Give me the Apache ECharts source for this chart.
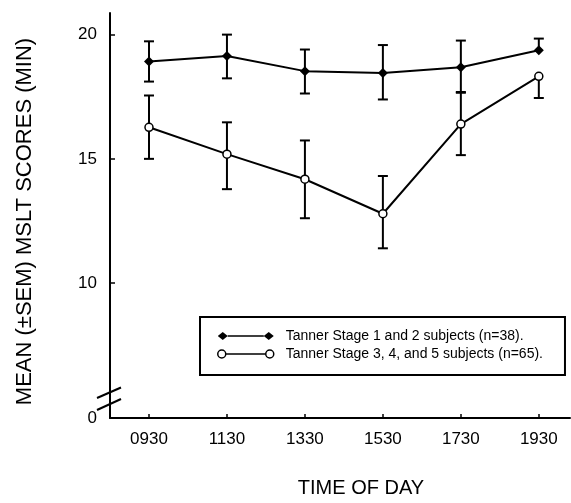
<!DOCTYPE html>
<html><head><meta charset="utf-8">
<script src="https://cdn.jsdelivr.net/npm/echarts@6/dist/echarts.min.js"></script>
<style>html,body{margin:0;padding:0;background:#fff}#c{width:571px;height:503px}</style>
</head><body><div id="c"></div>
<script>
const categories = ['0930', '1130', '1330', '1530', '1730', '1930'];
const seriesNames = ['Tanner Stage 1 and 2 subjects (n=38).', 'Tanner Stage 3, 4, and 5 subjects (n=65).'];
const earlyMean = [18.92, 19.14, 18.53, 18.46, 18.69, 19.37];
const earlyLow  = [18.11, 18.24, 17.63, 17.39, 17.69, 19.37];
const earlyHigh = [19.73, 20.00, 19.40, 19.58, 19.76, 19.84];
const lateMean  = [16.27, 15.19, 14.18, 12.79, 16.40, 18.32];
const lateLow   = [15.00, 13.78, 12.61, 11.40, 15.15, 17.45];
const lateHigh  = [17.55, 16.47, 15.74, 14.31, 17.66, 18.32];
const yTickValues = [10, 15, 20];
const yBreakLabel = '0';
const yAxisName = 'MEAN (\u00B1SEM) MSLT SCORES (MIN)';
const xAxisName = 'TIME OF DAY';

const Y_MIN = 4.57, Y_MAX = 20.87, X_MIN = -0.5, X_MAX = 5.4;
const FONT = '"Liberation Sans", Arial, Helvetica, sans-serif';
const idx = categories.map((c, i) => i);

function errData(mean, low, high) {
  return idx.map(i => [i, low[i], high[i], mean[i]]);
}
function renderErr(params, api) {
  const x = api.value(0), lo = api.value(1), hi = api.value(2), m = api.value(3);
  const pLo = api.coord([x, lo]), pHi = api.coord([x, hi]);
  const hw = 5;
  const st = { stroke: '#000', lineWidth: 2 };
  const ch = [{ type: 'line', shape: { x1: pLo[0], y1: pLo[1], x2: pHi[0], y2: pHi[1] }, style: st }];
  if (hi > m) ch.push({ type: 'line', shape: { x1: pHi[0] - hw, y1: pHi[1], x2: pHi[0] + hw, y2: pHi[1] }, style: st });
  if (lo < m) ch.push({ type: 'line', shape: { x1: pLo[0] - hw, y1: pLo[1], x2: pLo[0] + hw, y2: pLo[1] }, style: st });
  return { type: 'group', children: ch };
}

const chart = echarts.init(document.getElementById('c'), null, { renderer: 'canvas' });
const option = {
  backgroundColor: '#fff',
  animation: false,
  textStyle: { fontFamily: FONT },
  grid: { left: 110, right: 1, top: 13, bottom: 80, containLabel: false },
  xAxis: {
    type: 'value', min: X_MIN, max: X_MAX,
    name: xAxisName, nameLocation: 'middle', nameGap: 60,
    nameTextStyle: { fontSize: 20, color: '#000', fontFamily: FONT, padding: [0, 0, 0, 42] },
    axisLine: { show: true, onZero: false, lineStyle: { color: '#000', width: 2 } },
    axisTick: { show: true, inside: true, length: 4, customValues: idx, lineStyle: { color: '#000', width: 1.5 } },
    axisLabel: { customValues: idx, formatter: v => categories[Math.round(v)], fontSize: 17, color: '#000', margin: 13, fontFamily: FONT },
    splitLine: { show: false }
  },
  yAxis: {
    type: 'value', min: Y_MIN, max: Y_MAX,
    name: yAxisName, nameLocation: 'middle', nameGap: 74, nameRotate: 90,
    nameTextStyle: { fontSize: 22, color: '#000', fontFamily: FONT, padding: [0, 12, 0, 0] },
    axisLine: { show: true, onZero: false, lineStyle: { color: '#000', width: 2 } },
    axisTick: { show: true, inside: true, length: 5, customValues: yTickValues, lineStyle: { color: '#000', width: 1.5 } },
    axisLabel: { customValues: [Y_MIN].concat(yTickValues), formatter: v => (v === Y_MIN ? yBreakLabel : String(v)), fontSize: 17, color: '#000', margin: 13, fontFamily: FONT },
    splitLine: { show: false }
  },
  legend: {
    orient: 'vertical', left: 200, top: 317,
    borderColor: '#000', borderWidth: 2, padding: [12, 22, 14, 17], itemGap: 4,
    itemWidth: 56, itemHeight: 8,
    textStyle: { fontSize: 14, color: '#000', fontFamily: FONT, padding: [0, 0, 0, 7] },
    data: [
      { name: seriesNames[0], icon: 'path://M0,4L5,0L10,4L5,8ZM10,3.2L46,3.2L46,4.8L10,4.8ZM46,4L51,0L56,4L51,8Z', itemStyle: { color: '#000', borderWidth: 0 } },
      { name: seriesNames[1], icon: 'path://M0,4A4,4,0,1,1,8,4A4,4,0,1,1,0,4ZM8,4L48,4M48,4A4,4,0,1,1,56,4A4,4,0,1,1,48,4Z', itemStyle: { color: '#fff', borderColor: '#000', borderWidth: 1.5 } }
    ]
  },
  series: [
    { type: 'custom', name: 'err1', z: 1, renderItem: renderErr, data: errData(earlyMean, earlyLow, earlyHigh), silent: true },
    { type: 'custom', name: 'err2', z: 1, renderItem: renderErr, data: errData(lateMean, lateLow, lateHigh), silent: true },
    {
      type: 'line', name: seriesNames[0], z: 3, data: idx.map(i => [i, earlyMean[i]]),
      symbol: 'diamond', symbolSize: 10,
      lineStyle: { color: '#000', width: 2 },
      itemStyle: { color: '#000' }
    },
    {
      type: 'line', name: seriesNames[1], z: 3, data: idx.map(i => [i, lateMean[i]]),
      symbol: 'circle', symbolSize: 8,
      lineStyle: { color: '#000', width: 2 },
      itemStyle: { color: '#fff', borderColor: '#000', borderWidth: 1.5 }
    }
  ]
};
chart.setOption(option);
const o = chart.convertToPixel({ gridIndex: 0 }, [X_MIN, Y_MIN]);
const bst = { stroke: '#000', lineWidth: 2 };
chart.setOption({
  graphic: [
    { type: 'line', z: 10, shape: { x1: o[0] - 13, y1: o[1] - 20, x2: o[0] + 11, y2: o[1] - 30.5 }, style: bst },
    { type: 'line', z: 10, shape: { x1: o[0] - 13, y1: o[1] - 8, x2: o[0] + 11, y2: o[1] - 19 }, style: bst }
  ]
});
</script>
</body></html>
